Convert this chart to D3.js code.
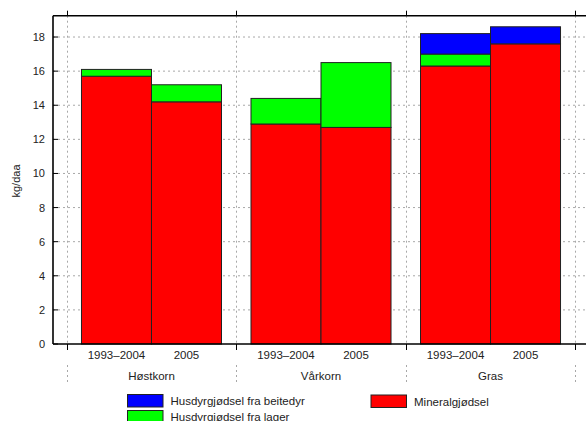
<!DOCTYPE html>
<html>
<head>
<meta charset="utf-8">
<script src="https://cdn.jsdelivr.net/npm/d3@7"></script>
<style>
  html, body { margin: 0; padding: 0; background: #fff; }
  svg { display: block; font-family: "Liberation Sans", Arial, sans-serif; }
</style>
</head>
<body>
<svg id="chart" width="586" height="421"></svg>
<script>
// Crop groups and periods
const crops = ["Høstkorn", "Vårkorn", "Gras"];
const periods = ["1993–2004", "2005"];

// Nitrogen sources, kg/daa, per crop and period (stacked bottom to top)
const mineral = [[15.7, 14.2], [12.9, 12.7], [16.3, 17.6]];
const lager   = [[0.4, 1.0],   [1.5, 3.8],   [0.7, 0.0]];
const beite   = [[0.0, 0.0],   [0.0, 0.0],   [1.2, 1.0]];

const yTicks = [0, 2, 4, 6, 8, 10, 12, 14, 16, 18];

const seriesNames = ["Mineralgjødsel", "Husdyrgjødsel fra lager", "Husdyrgjødsel fra beitedyr"];
const seriesColors = ["#ff0000", "#00ff00", "#0000ff"];
const seriesValues = [mineral, lager, beite];

const svg = d3.select("#chart");
const plotLeft = 53, plotRight = 589, plotTop = 15.7, plotBottom = 344;

const x = d3.scaleLinear().domain([-0.581, 2.581]).range([plotLeft, plotRight]);
const y = d3.scaleLinear().domain([0, 19.25]).range([plotBottom, plotTop]);
const barW = 0.413;

const gridColor = "#a8a8a8";

// horizontal grid
svg.append("g").selectAll("line").data(yTicks.filter(d => d > 0)).join("line")
  .attr("x1", plotLeft).attr("x2", 586)
  .attr("y1", d => y(d)).attr("y2", d => y(d))
  .attr("stroke", gridColor).attr("stroke-width", 1)
  .attr("stroke-dasharray", "2,3");

// vertical group dividers
const dividers = d3.range(crops.length + 1).map(i => i - 0.5);
svg.append("g").selectAll("line").data(dividers).join("line")
  .attr("x1", d => Math.round(x(d)) + 0.5).attr("x2", d => Math.round(x(d)) + 0.5)
  .attr("y1", plotTop).attr("y2", plotBottom)
  .attr("stroke", gridColor).attr("stroke-width", 1)
  .attr("stroke-dasharray", "2,3");
svg.append("g").selectAll("line").data(dividers).join("line")
  .attr("x1", d => Math.round(x(d)) + 0.5).attr("x2", d => Math.round(x(d)) + 0.5)
  .attr("y1", 365).attr("y2", 383)
  .attr("stroke", gridColor).attr("stroke-width", 1)
  .attr("stroke-dasharray", "2,3");

// stacked bars
const bars = [];
crops.forEach((c, ci) => {
  periods.forEach((p, pi) => {
    let base = 0;
    seriesValues.forEach((vals, si) => {
      const v = vals[ci][pi];
      if (v > 0) {
        bars.push({ x0: ci - barW + pi * barW, y0: base, y1: base + v, color: seriesColors[si] });
      }
      base += v;
    });
  });
});
svg.append("g").selectAll("rect").data(bars).join("rect")
  .attr("x", d => x(d.x0))
  .attr("width", d => x(d.x0 + barW) - x(d.x0))
  .attr("y", d => y(d.y1))
  .attr("height", d => y(d.y0) - y(d.y1))
  .attr("fill", d => d.color)
  .attr("stroke", "#222").attr("stroke-width", 1);

// axes frame
const axisG = svg.append("g").attr("stroke", "#000").attr("stroke-width", 1.6);
axisG.append("line").attr("x1", plotLeft).attr("x2", 586).attr("y1", plotBottom).attr("y2", plotBottom);
axisG.append("line").attr("x1", plotLeft).attr("x2", 586).attr("y1", plotTop).attr("y2", plotTop);
axisG.append("line").attr("x1", plotLeft).attr("x2", plotLeft).attr("y1", plotTop).attr("y2", plotBottom);

// divider ticks on top and bottom
const tickG = svg.append("g").attr("stroke", "#000").attr("stroke-width", 1);
tickG.selectAll(".tb").data(dividers).join("line")
  .attr("x1", d => Math.round(x(d)) + 0.5).attr("x2", d => Math.round(x(d)) + 0.5)
  .attr("y1", plotBottom).attr("y2", plotBottom + 6);
tickG.selectAll(".tt").data(dividers).join("line")
  .attr("x1", d => Math.round(x(d)) + 0.5).attr("x2", d => Math.round(x(d)) + 0.5)
  .attr("y1", plotTop - 5).attr("y2", plotTop);

// y ticks and labels
tickG.selectAll(".ty").data(yTicks).join("line")
  .attr("x1", plotLeft).attr("x2", plotLeft + 5)
  .attr("y1", d => y(d)).attr("y2", d => y(d));
svg.append("g").selectAll("text").data(yTicks).join("text")
  .attr("x", 45).attr("y", d => y(d) + 4)
  .attr("text-anchor", "end").attr("font-size", 11).attr("fill", "#222")
  .text(d => d);

svg.append("text")
  .attr("transform", "translate(20,181) rotate(-90)")
  .attr("text-anchor", "middle").attr("font-size", 11).attr("fill", "#222")
  .text("kg/daa");

// period labels
const periodLabels = [];
crops.forEach((c, ci) => periods.forEach((p, pi) => periodLabels.push({ pos: ci - barW / 2 + pi * barW, text: p })));
svg.append("g").selectAll("text").data(periodLabels).join("text")
  .attr("x", d => x(d.pos)).attr("y", 359)
  .attr("text-anchor", "middle").attr("font-size", 11.5).attr("fill", "#222")
  .text(d => d.text);

// crop labels
svg.append("g").selectAll("text").data(crops).join("text")
  .attr("x", (d, i) => x(i)).attr("y", 380)
  .attr("text-anchor", "middle").attr("font-size", 11.5).attr("fill", "#222")
  .text(d => d);

// legend
const legendItems = [
  { name: seriesNames[2], color: seriesColors[2], lx: 127.5, ly: 394.5 },
  { name: seriesNames[1], color: seriesColors[1], lx: 127.5, ly: 410.5 },
  { name: seriesNames[0], color: seriesColors[0], lx: 371, ly: 395 }
];
const lg = svg.append("g").selectAll("g").data(legendItems).join("g")
  .attr("transform", d => `translate(${d.lx},${d.ly})`);
lg.append("rect").attr("width", 35.5).attr("height", 12.5)
  .attr("fill", d => d.color).attr("stroke", "#222").attr("stroke-width", 1);
lg.append("text").attr("x", 43).attr("y", 10.5)
  .attr("font-size", 11.5).attr("fill", "#222")
  .text(d => d.name);
</script>
</body>
</html>
